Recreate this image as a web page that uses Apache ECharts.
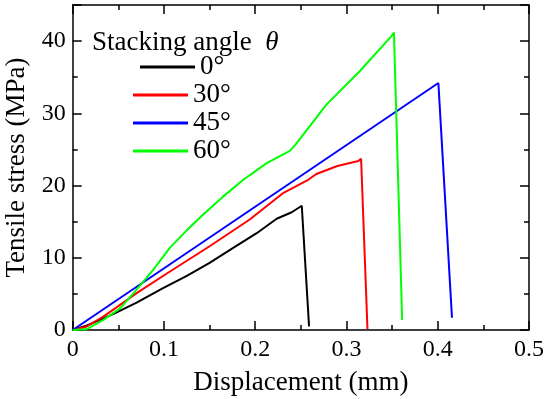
<!DOCTYPE html>
<html>
<head>
<meta charset="utf-8">
<script src="https://cdn.jsdelivr.net/npm/echarts@6/dist/echarts.min.js"></script>
<style>html,body{margin:0;padding:0;background:#fff}#c{width:550px;height:399px}</style>
</head>
<body>
<div id="c"></div>
<script>
// ---- data ----
var names = ['0°', '30°', '45°', '60°'];
var colors = ['#000000', '#ff0000', '#0000ff', '#00ff00'];

var disp0   = [0, 0.015, 0.03, 0.046, 0.07, 0.099, 0.125, 0.150, 0.175, 0.2016, 0.2235, 0.240, 0.251, 0.253, 0.259];
var stress0 = [0, 0.6, 1.4, 2.3, 3.8, 5.8, 7.5, 9.3, 11.3, 13.4, 15.4, 16.3, 17.2, 17.3, 0.5];

var disp30   = [0, 0.015, 0.0335, 0.05, 0.070, 0.1066, 0.150, 0.194, 0.231, 0.258, 0.267, 0.29, 0.313, 0.316, 0.323];
var stress30 = [0, 0.45, 1.85, 3.3, 5.1, 8.1, 11.6, 15.3, 19.0, 20.8, 21.6, 22.7, 23.4, 23.7, 0.1];

var disp45   = [0, 0.4007, 0.4156];
var stress45 = [0, 34.2, 1.7];

var disp60   = [0, 0.015, 0.0335, 0.052, 0.070, 0.088, 0.1066, 0.125, 0.143, 0.165, 0.187, 0.2126, 0.238, 0.245, 0.278, 0.315, 0.350, 0.352, 0.361];
var stress60 = [0, 0.1, 1.4, 3.0, 5.6, 8.3, 11.4, 13.8, 16.0, 18.5, 20.8, 23.1, 24.8, 25.8, 31.2, 35.9, 40.8, 41.2, 1.4];

var xTicks = [0, 0.1, 0.2, 0.3, 0.4, 0.5];
var yTicks = [0, 10, 20, 30, 40];

function pairs(xs, ys) { return xs.map(function (x, i) { return [x, ys[i]]; }); }
var seriesData = [pairs(disp0, stress0), pairs(disp30, stress30), pairs(disp45, stress45), pairs(disp60, stress60)];

var FONT = "'Liberation Serif', 'Times New Roman', Times, serif";
var axisLineStyle = { color: '#000', width: 1.5 };

function xAxisDef(pos, showLabel) {
  return {
    type: 'value', position: pos, min: 0, max: 0.5, interval: 0.1,
    axisLine: { show: true, onZero: false, lineStyle: axisLineStyle },
    axisTick: { show: true, inside: true, length: 9, lineStyle: { color: '#000', width: 1.5 } },
    minorTick: { show: true, splitNumber: 2, length: 5, lineStyle: { color: '#000', width: 1.5 } },
    splitLine: { show: false },
    axisLabel: { show: showLabel, color: '#000', fontFamily: FONT, fontSize: 24, margin: 8,
      formatter: function (v) { return xTicks.indexOf(Math.round(v * 10) / 10) >= 0 ? String(Math.round(v * 10) / 10) : ''; } },
    name: showLabel ? 'Displacement (mm)' : '', nameLocation: 'middle', nameGap: 39,
    nameTextStyle: { color: '#000', fontFamily: FONT, fontSize: 27 }
  };
}
function yAxisDef(pos, interval, len, showLabel, showLine) {
  return {
    type: 'value', position: pos, min: 0, max: 45, interval: interval,
    axisLine: { show: showLine, onZero: false, lineStyle: axisLineStyle },
    axisTick: { show: true, inside: true, length: len, lineStyle: { color: '#000', width: 1.5 } },
    splitLine: { show: false },
    axisLabel: { show: showLabel, color: '#000', fontFamily: FONT, fontSize: 24, margin: 7,
      formatter: function (v) { return yTicks.indexOf(v) >= 0 ? String(v) : ''; } },
    name: showLabel ? 'Tensile stress (MPa)' : '', nameLocation: 'middle', nameGap: 35,
    nameTextStyle: { color: '#000', fontFamily: FONT, fontSize: 27 }
  };
}

var chart = echarts.init(document.getElementById('c'), null, { renderer: 'canvas' });
chart.setOption({
  animation: false,
  backgroundColor: '#fff',
  grid: { left: 72.7, right: 21, top: 5, bottom: 69, containLabel: false, outerBoundsMode: 'none' },
  xAxis: [xAxisDef('bottom', true), xAxisDef('top', false)],
  yAxis: [
    yAxisDef('left', 10, 9, true, true),
    yAxisDef('left', 5, 5, false, false),
    yAxisDef('right', 10, 9, false, true),
    yAxisDef('right', 5, 5, false, false)
  ],
  legend: [
    { data: ['0°'], orient: 'vertical', left: 140, top: 53, padding: 0, itemGap: 0,
      icon: 'rect', itemWidth: 55, itemHeight: 3, itemStyle: { borderWidth: 0 },
      textStyle: { color: '#000', fontFamily: FONT, fontSize: 27, lineHeight: 28 } },
    { data: ['30°', '45°', '60°'], orient: 'vertical', left: 133, top: 81, padding: 0, itemGap: 0,
      icon: 'rect', itemWidth: 55, itemHeight: 3, itemStyle: { borderWidth: 0 },
      textStyle: { color: '#000', fontFamily: FONT, fontSize: 27, lineHeight: 28 } }
  ],
  graphic: [{
    type: 'text', left: 92, top: 29,
    style: {
      text: '{a|Stacking angle  }{b|θ}',
      rich: {
        a: { fontFamily: FONT, fontSize: 27, fill: '#000' },
        b: { fontFamily: FONT, fontSize: 27, fontStyle: 'italic', fill: '#000' }
      }
    }
  }],
  series: names.map(function (n, i) {
    return {
      name: n, type: 'line', data: seriesData[i], xAxisIndex: 0, yAxisIndex: 0,
      showSymbol: false, symbol: 'none', smooth: false,
      lineStyle: { color: colors[i], width: 2 }, itemStyle: { color: colors[i] }
    };
  })
});
</script>
</body>
</html>
